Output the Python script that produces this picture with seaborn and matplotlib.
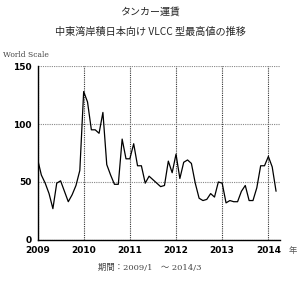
import matplotlib
matplotlib.use("Agg")
import matplotlib.pyplot as plt
import seaborn as sns
import pandas as pd
import numpy as np

# Monthly VLCC max rate (World Scale), 2009/1 - 2014/3
v2009 = [70, 56, 49, 40, 27, 49, 51, 42, 33, 39, 47, 60]
v2010 = [128, 119, 95, 95, 92, 110, 65, 56, 48, 48, 87, 70]
v2011 = [70, 83, 64, 64, 49, 55, 52, 49, 46, 47, 68, 58]
v2012 = [74, 53, 67, 69, 66, 49, 36, 34, 35, 40, 37, 50]
v2013 = [49, 32, 34, 33, 33, 42, 47, 34, 34, 45, 64, 64]
v2014 = [72, 63, 42]

years = [2009, 2010, 2011, 2012, 2013, 2014]
yticks = [0, 50, 100, 150]

values = v2009 + v2010 + v2011 + v2012 + v2013 + v2014
months = pd.period_range("2009-01", periods=len(values), freq="M")
df = pd.DataFrame({
    "t": months.year + (months.month - 1) / 12,
    "ws": values,
})

sns.set_style("white")
plt.rcParams['font.family'] = ['DejaVu Sans', 'Noto Sans CJK JP']

fig = plt.figure(figsize=(3.0, 2.81), dpi=100)
ax = fig.add_axes([0.125, 0.146, 0.808, 0.619])

sns.lineplot(data=df, x="t", y="ws", color="black", linewidth=0.9, ax=ax)

ax.set_xlim(2009, 2014.25)
ax.set_ylim(0, 150)
ax.set_xticks(years)
ax.set_yticks(yticks)
ax.set_xticklabels([str(y) for y in years], fontsize=6.5, fontweight='bold')
ax.set_yticklabels([str(y) for y in yticks], fontsize=6.5, fontweight='bold')
ax.tick_params(axis='both', length=2, width=0.8, pad=2, colors='black')
ax.set_xlabel("")
ax.set_ylabel("")

ax.yaxis.grid(True, linestyle=(0, (1, 1)), color='#888888', linewidth=0.8)
ax.xaxis.grid(True, linestyle=(0, (1, 1)), color='#333333', linewidth=0.8)
for s in ['top', 'right']:
    ax.spines[s].set_visible(False)
for s in ['left', 'bottom']:
    ax.spines[s].set_color('black')
    ax.spines[s].set_linewidth(1.0)

fig.text(0.5, 0.957, "タンカー運賃", ha='center', va='center', fontsize=7.2,
         family=['Noto Sans CJK JP'])
fig.text(0.5, 0.888, "中東湾岸積日本向け VLCC 型最高値の推移", ha='center', va='center',
         fontsize=7.3, family=['Noto Sans CJK JP'])
fig.text(0.01, 0.805, "World Scale", ha='left', va='center', fontsize=5.5,
         family=['DejaVu Serif'], color='#444444')
fig.text(0.977, 0.107, "年", ha='center', va='center', fontsize=6,
         family=['Noto Sans CJK JP'], color='#555555')
fig.text(0.5, 0.046, "期間：2009/1　～ 2014/3", ha='center', va='center', fontsize=6,
         family=['DejaVu Serif', 'Noto Sans CJK JP'], color='#444444')

fig.savefig("out.png", dpi=100)
